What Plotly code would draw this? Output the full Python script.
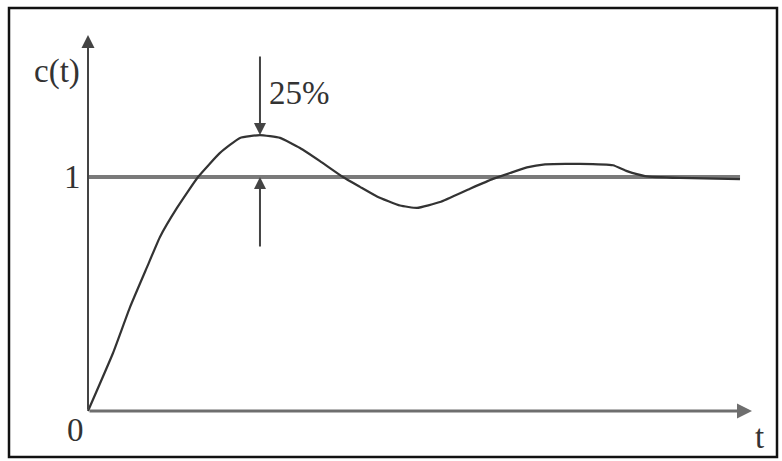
import plotly.graph_objects as go

# Step response curve (time in arbitrary units, c(t) normalized to final value 1)
t_vals = [0.0, 0.377, 0.633, 0.889, 1.084, 1.340, 1.657, 1.988, 2.289, 2.590, 2.892, 3.193,
          3.494, 3.840, 4.096, 4.352, 4.699, 4.955, 5.301, 5.753, 6.099, 6.355, 6.611,
          6.883, 7.410, 7.907, 8.117, 8.389, 8.916, 9.819]
c_vals = [0.0, 0.248, 0.444, 0.615, 0.744, 0.868, 1.000, 1.103, 1.167, 1.179, 1.167, 1.124,
          1.068, 1.000, 0.958, 0.917, 0.878, 0.868, 0.893, 0.950, 0.992, 1.017, 1.041,
          1.054, 1.056, 1.050, 1.025, 1.004, 0.996, 0.991]

final_value = 1.0
t_end = 9.82
t_axis_end = 10.0
c_axis_end = 1.607
t_peak = 2.59
c_peak = 1.179
overshoot_label = "25%"

W, H = 782, 461
x_range = [-88 / 66.4, (W - 88) / 66.4]
y_range = [-(H - 411) / 234, 411 / 234]

fig = go.Figure()

# reference level line at 1
fig.add_trace(go.Scatter(x=[0, t_end], y=[final_value, final_value], mode="lines",
                         line=dict(color="#7a7a7a", width=4), hoverinfo="skip"))
# response curve
fig.add_trace(go.Scatter(x=t_vals, y=c_vals, mode="lines", line_shape="spline",
                         line=dict(color="#333333", width=2.2, smoothing=0.4), hoverinfo="skip"))

font = dict(family="Liberation Serif, Times New Roman, serif", size=33, color="#333333")
ann = []
# axes with arrows
ann.append(dict(x=t_axis_end, y=0, ax=0, ay=0, axref="x", ayref="y", xref="x", yref="y",
                showarrow=True, arrowhead=2, arrowsize=1, arrowwidth=3, arrowcolor="#6e6e6e", text=""))
ann.append(dict(x=0, y=c_axis_end, ax=0, ay=0, axref="x", ayref="y", xref="x", yref="y",
                showarrow=True, arrowhead=2, arrowsize=1.3, arrowwidth=2, arrowcolor="#444444", text=""))
# overshoot arrows
ann.append(dict(x=t_peak, y=c_peak, ax=t_peak, ay=1.521, axref="x", ayref="y", xref="x", yref="y",
                showarrow=True, arrowhead=2, arrowsize=1.2, arrowwidth=2, arrowcolor="#444444", text=""))
ann.append(dict(x=t_peak, y=final_value, ax=t_peak, ay=0.697, axref="x", ayref="y", xref="x", yref="y",
                showarrow=True, arrowhead=2, arrowsize=1.2, arrowwidth=2, arrowcolor="#444444", text=""))
# labels
ann.append(dict(x=3.19, y=1.36, xref="x", yref="y", text=overshoot_label, showarrow=False, font=font))
ann.append(dict(x=-0.47, y=1.449, xref="x", yref="y", text="c(t)", showarrow=False, font=font))
ann.append(dict(x=-0.23, y=1.0, xref="x", yref="y", text="1", showarrow=False, font=font))
ann.append(dict(x=-0.19, y=-0.08, xref="x", yref="y", text="0", showarrow=False, font=font))
ann.append(dict(x=10.12, y=-0.11, xref="x", yref="y", text="t", showarrow=False, font=font))

fig.update_layout(
    width=W, height=H, margin=dict(l=0, r=0, t=0, b=0),
    paper_bgcolor="white", plot_bgcolor="white", showlegend=False,
    xaxis=dict(range=x_range, visible=False, fixedrange=True),
    yaxis=dict(range=y_range, visible=False, fixedrange=True),
    annotations=ann,
    shapes=[dict(type="rect", xref="paper", yref="paper",
                 x0=9 / W, x1=777 / W, y0=(H - 457) / H, y1=(H - 8) / H,
                 line=dict(color="#111111", width=2.5))],
)

fig.write_html("out.html", config={"displayModeBar": False},
               post_script="document.body.style.margin='0';document.body.style.overflow='hidden';")
